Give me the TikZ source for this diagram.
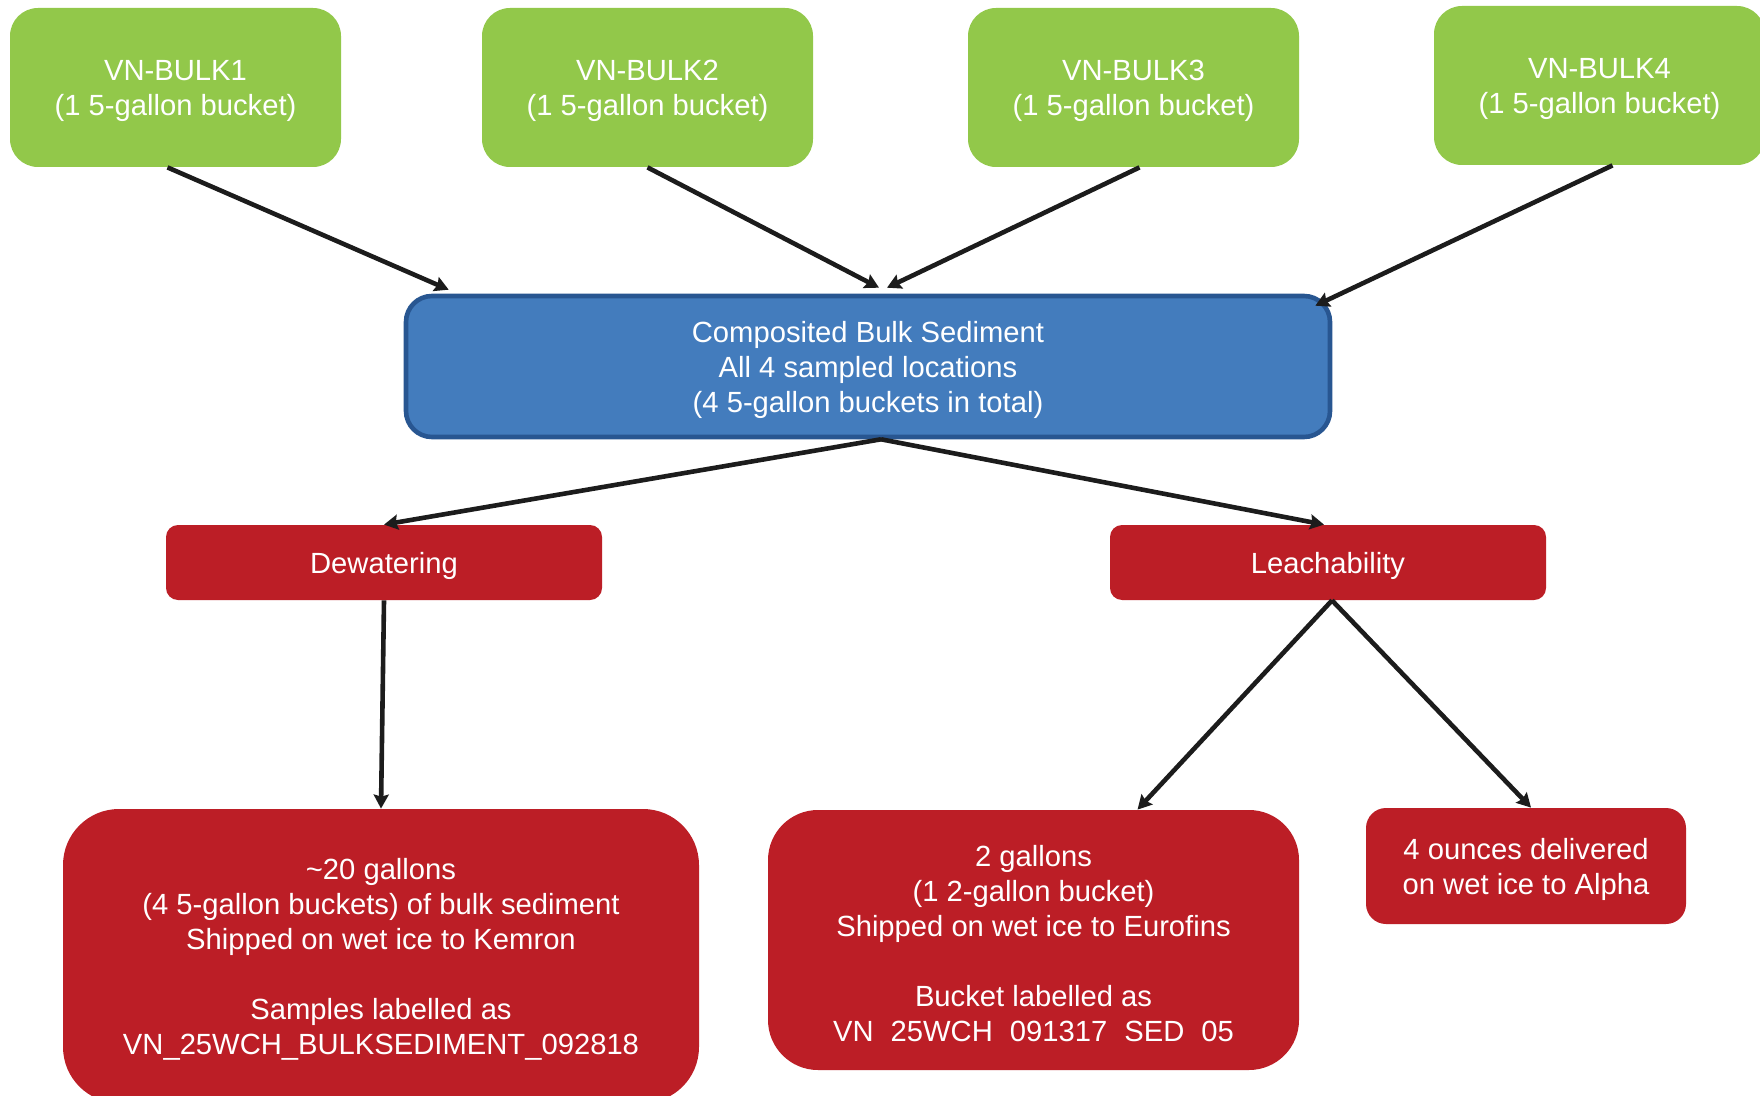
\documentclass[tikz,border=0pt]{standalone}
\usepackage{fontspec}
\setmainfont{Liberation Sans}
\usetikzlibrary{arrows.meta}
\definecolor{gfill}{RGB}{146,200,74}
\definecolor{bfill}{RGB}{67,124,189}
\definecolor{bdraw}{RGB}{40,86,145}
\definecolor{rfill}{RGB}{188,30,38}
\definecolor{arrowc}{RGB}{28,28,28}
\newcommand\tpstrut{\rule{0pt}{14pt}}
\tikzset{
  txt/.style={text=white, align=center, font=\fontsize{14.6pt}{17.5pt}\selectfont, inner sep=0pt},
  greenbox/.style={txt, fill=gfill, rounded corners=14pt, minimum width=165.5pt, minimum height=79.5pt},
  bluebox/.style={txt, fill=bfill, draw=bdraw, line width=2.3pt, rounded corners=13pt, minimum width=462pt, minimum height=70.5pt},
  redbar/.style={txt, fill=rfill, rounded corners=6pt, minimum width=218pt, minimum height=37.5pt},
  flow/.style={draw=arrowc, line width=2.3pt, -{Stealth[length=7pt,width=7.5pt,inset=1pt]}}
}
\begin{document}
\begin{tikzpicture}[x=0.5pt,y=-0.5pt]
\clip (0,0) rectangle (1760,1096);
\fill[white] (0,0) rectangle (1760,1096);

\node[greenbox] (b1) at (175.5,87.5) {\tpstrut VN-BULK1\\(1 5-gallon bucket)};
\node[greenbox] (b2) at (647.5,87.5) {\tpstrut VN-BULK2\\(1 5-gallon bucket)};
\node[greenbox] (b3) at (1133.5,87.5) {\tpstrut VN-BULK3\\(1 5-gallon bucket)};
\node[greenbox] (b4) at (1599.5,85.5) {\tpstrut VN-BULK4\\(1 5-gallon bucket)};

\node[bluebox] (comp) at (868,366.5) {\tpstrut Composited Bulk Sediment\\All 4 sampled locations\\(4 5-gallon buckets in total)};

\node[redbar] (dew) at (384,562.5) {\tpstrut Dewatering};
\node[redbar] (lea) at (1328,562.5) {\tpstrut Leachability};

\node[txt, fill=rfill, rounded corners=28pt, minimum width=318pt, minimum height=147pt] (kem) at (381,956)
  {\tpstrut\textasciitilde 20 gallons\\(4 5-gallon buckets) of bulk sediment\\Shipped on wet ice to Kemron\\[17.5pt]Samples labelled as\\VN\_25WCH\_BULKSEDIMENT\_092818};
\node[txt, fill=rfill, rounded corners=25pt, minimum width=265.5pt, minimum height=130pt] (eur) at (1033.5,940)
  {\tpstrut 2 gallons\\(1 2-gallon bucket)\\Shipped on wet ice to Eurofins\\[17.5pt]Bucket labelled as\\VN\hspace{8.5pt}25WCH\hspace{8.5pt}091317\hspace{8.5pt}SED\hspace{8.5pt}05};
\node[txt, fill=rfill, rounded corners=10pt, minimum width=160pt, minimum height=58pt] (alp) at (1526,866)
  {\tpstrut 4 ounces delivered\\on wet ice to Alpha};

\draw[flow] ([xshift=-4pt]b1.south) -- ([xshift=22.5pt,yshift=2pt]comp.north west);
\draw[flow] (b2.south) -- ([xshift=5.5pt,yshift=3pt]comp.north);
\draw[flow] ([xshift=3pt]b3.south) -- ([xshift=9.5pt,yshift=3pt]comp.north);
\draw[flow] ([xshift=6.5pt]b4.south) -- ([xshift=-8.5pt,yshift=-6pt]comp.north east);

\draw[flow] ([xshift=6.5pt]comp.south) -- (dew.north);
\draw[flow] ([xshift=6.5pt]comp.south) -- ([xshift=-2pt]lea.north);

\draw[flow] (dew.south) -- (kem.north);
\draw[flow] ([xshift=2pt]lea.south) -- ([xshift=52pt]eur.north);
\draw[flow] ([xshift=2pt]lea.south) -- ([xshift=2.5pt]alp.north);
\end{tikzpicture}
\end{document}
